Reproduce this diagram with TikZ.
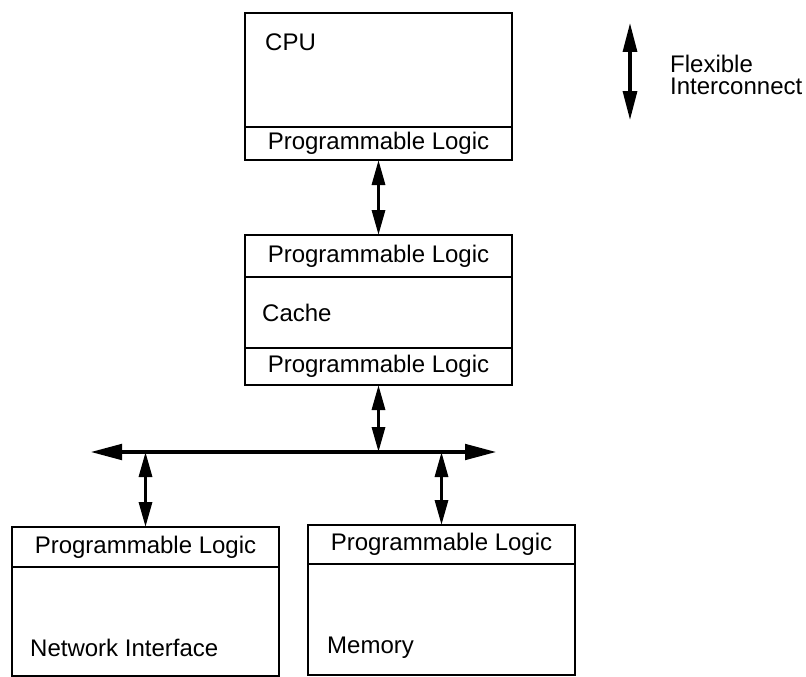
\documentclass[tikz,border=0pt]{standalone}
\usepackage{fontspec}
\setmainfont{Liberation Sans}
\usetikzlibrary{arrows.meta, positioning}

\begin{document}
\begin{tikzpicture}[
  x=1pt, y=-1pt,
  font=\fontsize{24}{22}\selectfont,
  sect/.style={draw, line width=1.3pt, inner sep=0pt, outer sep=0pt, minimum width=267pt},
  tag/.style={anchor=west, inner sep=0pt},
  link/.style={{Triangle[length=25pt,width=13pt]}-{Triangle[length=25pt,width=13pt]}, line width=3.2pt},
  bus/.style={{Triangle[length=32pt,width=15pt]}-{Triangle[length=32pt,width=15pt]}, line width=4.8pt},
  node distance=0pt
]
  \useasboundingbox (0,0) rectangle (806,677);

  % CPU
  \node[sect, minimum height=114pt, anchor=north west] (cpu) at (245,13) {};
  \node[sect, minimum height=33pt, below=of cpu] (cpupl) {Programmable Logic};
  \node[tag] (cpuname) at ([xshift=20pt, yshift=-29pt]cpu.north west) {CPU};

  % Cache
  \node[sect, minimum height=42pt, below=75pt of cpupl] (cachein) {Programmable Logic};
  \node[sect, minimum height=71pt, below=of cachein] (cache) {};
  \node[sect, minimum height=37pt, below=of cache] (cacheout) {Programmable Logic};
  \node[tag] (cachename) at ([xshift=17pt]cache.west) {Cache};

  % Network interface
  \node[sect, minimum height=40pt, anchor=north west] (netpl) at (12,527) {Programmable Logic};
  \node[sect, minimum height=109pt, below=of netpl] (net) {};
  \node[tag] (netname) at ([xshift=18pt, yshift=28pt]net.south west) {Network Interface};

  % Memory
  \node[sect, minimum height=39pt, anchor=north west] (mempl) at (308,525) {Programmable Logic};
  \node[sect, minimum height=111pt, below=of mempl] (mem) {};
  \node[tag] (memname) at ([xshift=19pt, yshift=27pt]mem.south west) {Memory};

  % Bus
  \coordinate (busW) at (90,452);
  \coordinate (busE) at (497,452);
  \draw[bus] (busW) -- (busE);

  % Interconnects
  \draw[link] (cpupl.south) -- (cachein.north);
  \draw[link] (cacheout.south) -- (cacheout.south |- busW);
  \draw[link] (netpl.north |- busW) -- (netpl.north);
  \draw[link] (mempl.north |- busW) -- (mempl.north);

  % Key
  \coordinate (keyN) at (630,23);
  \coordinate (keyS) at (630,120);
  \draw[link, {Triangle[length=29pt,width=14pt]}-{Triangle[length=29pt,width=14pt]}] (keyN) -- (keyS);
  \node[anchor=west, align=left, inner sep=0pt] (keytxt) at (670,75) {Flexible\\Interconnect};
\end{tikzpicture}
\end{document}
